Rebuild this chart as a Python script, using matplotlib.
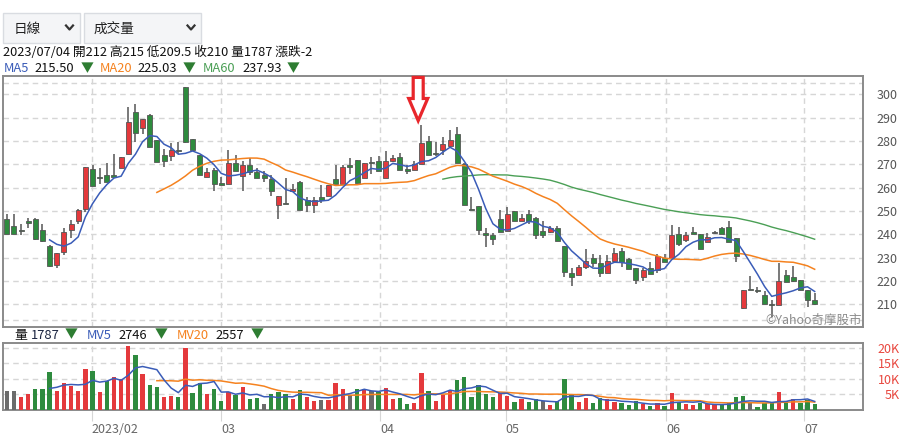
import numpy as np
import pandas as pd
import matplotlib
matplotlib.use('Agg')
import matplotlib.pyplot as plt
from matplotlib.patches import Rectangle, Polygon
from matplotlib.lines import Line2D

plt.rcParams['font.family'] = ['Noto Sans CJK TC', 'DejaVu Sans']

W, H = 907, 436

# 日K資料 (2023/01 ~ 2023/07/04)
opens = [246.5, 243.5, 242, 245.5, 246.5, 242, 235, 227, 232.5, 242,
         245.5, 251, 268, 264.5, 265.5, 265.5, 268.5, 274.5, 292.5, 285.5,
         291, 280.5, 274, 273.5, 276, 303, 281, 274, 264.5, 267.5,
         262, 261.5, 270.5, 265, 269.5, 266.5, 265.5, 263.5, 252.5, 253.5,
         258.5, 262.5, 254.5, 252.5, 256, 256.5, 263.5, 261.5, 269.5, 272,
         264, 271, 271.5, 264, 271.5, 273, 268, 267.5, 270, 280,
         275, 276, 278, 283, 270, 251, 252, 240.5, 239.5, 246.5,
         241.5, 250, 245.5, 248.5, 247, 241.5, 241, 242.5, 235, 223.5,
         222.5, 226, 230, 227.5, 223.5, 228.5, 233, 229.5, 225.5, 221.5,
         225.5, 224.5, 230, 230, 240, 237.5, 241, 240, 236.5, 240.5,
         242.5, 243, 238.5, 208.5, 216.5, 216, 214, 210, 209.5, 222.5,
         221.5, 220.5, 216, 212]
highs = [248.5, 248.5, 244.5, 247, 247, 244.5, 235.5, 232, 242.5, 246,
         251, 269, 269.5, 268.5, 270.5, 274.5, 273, 294.5, 296, 289.5,
         291.5, 280.5, 276.5, 279, 279.5, 303, 281, 274, 268.5, 268.5,
         264.5, 276, 274, 271.5, 272.5, 268.5, 267, 265.5, 256.5, 264,
         261.5, 263, 256, 256, 261, 261, 269.5, 269.5, 272.5, 272,
         270.5, 273, 273.5, 275.5, 274, 275, 269.5, 271.5, 287, 282,
         279.5, 281.5, 284.5, 286, 270.5, 256, 252, 242.5, 240.5, 250.5,
         251.5, 250, 248.5, 250.5, 247.5, 245.5, 243.5, 243.5, 235, 225.5,
         227, 233.5, 231.5, 231, 231, 234, 234, 230, 225.5, 225.5,
         228, 231.5, 231.5, 244, 243, 241, 243, 240, 240.5, 241.5,
         243, 245.5, 238.5, 216, 222, 217.5, 215.5, 212, 227.5, 224.5,
         226.5, 220.5, 216, 215]
lows = [240, 240, 239.5, 242.5, 237.5, 236.5, 226, 225.5, 231, 238.5,
        244.5, 249.5, 260.5, 261.5, 262.5, 264.5, 268.5, 274.5, 279.5, 283,
        277.5, 271, 269, 271.5, 274.5, 279, 275.5, 265.5, 264.5, 258.5,
        261, 261.5, 267, 258.5, 265.5, 264, 262.5, 256.5, 246.5, 253,
        258.5, 250.5, 249.5, 249, 253.5, 256.5, 261.5, 261.5, 266, 262,
        264, 266, 267, 264, 271, 267.5, 266, 267.5, 270, 274,
        273.5, 274, 277.5, 270.5, 252.5, 250.5, 239.5, 234.5, 235.5, 241,
        241.5, 245.5, 245.5, 244.5, 238, 238.5, 240.5, 237, 221.5, 218,
        222.5, 225, 226, 221.5, 223.5, 227.5, 226, 225, 218.5, 220,
        223, 223.5, 228, 230, 235, 236.5, 240, 233.5, 236.5, 240,
        240, 236.5, 228, 208, 216, 215, 210, 204.5, 209.5, 219.5,
        219.5, 216, 209, 209.5]
closes = [240, 240, 241.5, 245, 238, 237, 226.5, 232, 241, 244.5,
          250.5, 269, 260.5, 264, 262.5, 264.5, 273, 288, 283.5, 289.5,
          277.5, 271, 271.5, 276, 275.5, 279.5, 276, 265.5, 266.5, 261.5,
          261, 270.5, 267, 269.5, 266.5, 264, 264, 258.5, 256.5, 253,
          259.5, 250.5, 252.5, 254.5, 254.5, 261, 261.5, 269, 269, 262,
          270.5, 270.5, 267, 271.5, 272.5, 267.5, 267, 270, 279, 274,
          274.5, 278.5, 280.5, 270.5, 252.5, 250.5, 242, 239.5, 238, 241,
          248.5, 245.5, 247, 245.5, 239.5, 239.5, 242.5, 237, 224, 221.5,
          226, 228.5, 227.5, 223.5, 228.5, 232, 228, 225, 220.5, 224.5,
          223, 230.5, 228, 239.5, 236, 239.5, 240, 233.5, 239, 240.5,
          240, 236.5, 230.5, 216, 216, 215.5, 210, 209.5, 220, 219.5,
          220, 216, 212, 210]
volumes = [6000, 6000, 4100, 5050, 6650, 6650, 12100, 6000, 8600, 7600,
           6000, 13050, 12400, 5700, 9200, 10500, 9850, 20450, 17550, 11450,
           7950, 7300, 4100, 4400, 4100, 19800, 5400, 8700, 5150, 6650,
           2800, 5800, 4850, 7300, 3450, 3800, 1850, 5050, 5700, 5050,
           3450, 6350, 4100, 2800, 3150, 3150, 8600, 6650, 4750, 6650,
           6650, 6000, 5700, 7000, 3450, 3800, 1850, 2150, 11800, 6000,
           2800, 4750, 6550, 9550, 10500, 4100, 7950, 5050, 4100, 5400,
           4400, 2500, 3450, 2500, 3450, 2800, 1550, 2800, 9850, 5050,
           2500, 3800, 2150, 3800, 3450, 2500, 2150, 1550, 2800, 1850,
           1200, 2150, 1200, 5400, 2500, 1850, 1550, 2150, 1850, 1550,
           1550, 2150, 4100, 4400, 2500, 900, 2150, 2150, 5700, 2850,
           3550, 2250, 3300, 1787]

month_labels = ['2023/02', '03', '04', '05', '06', '07']
month_pos = [11.9, 30.0, 52.2, 69.8, 92.2, 111.5]
price_ticks = list(range(210, 301, 10))
vol_ticks = [5000, 10000, 15000, 20000]
vol_tick_labels = ['5K', '10K', '15K', '20K']

header_info = '2023/07/04 開212 高215 低209.5 收210 量1787 漲跌-2'
ma_values = ['215.50', '225.03', '237.93']
vol_values = ['1787', '2746', '2557']

RED = '#e4393c'
GREEN = '#2e8b3e'
GRAY = '#6b6b6b'
C_MA5 = '#3a5cb8'
C_MA20 = '#f5821f'
C_MA60 = '#4a9f55'
TRI = '#2e7d32'
GRID = '#d6d6d6'

n = len(closes)
idx = np.arange(n)

s_close = pd.Series(closes, dtype=float)
ma5 = s_close.rolling(5).mean()
ma20 = s_close.rolling(20).mean()
ma60 = s_close.rolling(60).mean()
ma5[:6] = np.nan
ma20[:21] = np.nan
ma60[:61] = np.nan

s_vol = pd.Series(volumes, dtype=float)
mv5 = s_vol.rolling(5).mean()
mv20 = s_vol.rolling(20).mean()
mv5[:6] = np.nan
mv20[:21] = np.nan

fig = plt.figure(figsize=(W / 100, H / 100), dpi=100)
fig.patch.set_facecolor('white')


def fx(x):
    return x / W


def fy(y):
    return 1 - y / H


ax = fig.add_axes([fx(3), fy(327), fx(863) - fx(3), fy(76) - fy(327)])
axv = fig.add_axes([fx(3), fy(410), fx(863) - fx(3), fy(343) - fy(410)])

xlim = (-0.52, 119.76)

# ---- 主圖 K線 ----
for i in range(n):
    o, h, l, c = opens[i], highs[i], lows[i], closes[i]
    if c > o:
        col = RED
    elif c < o:
        col = GREEN
    else:
        col = GRAY
    ax.vlines(i, l, h, color='#555555', lw=1.1, zorder=3)
    bh = max(abs(c - o), 0.35)
    ax.add_patch(Rectangle((i - 0.35, min(o, c)), 0.7, bh, facecolor=col,
                           edgecolor='#555555', lw=0.6, zorder=4))

ax.plot(idx, ma60, color=C_MA60, lw=1.0, zorder=5)
ax.plot(idx, ma20, color=C_MA20, lw=1.1, zorder=5)
ax.plot(idx, ma5, color=C_MA5, lw=1.1, zorder=6)

ax.set_xlim(*xlim)
ax.set_ylim(200.26, 307.84)
for p in price_ticks + [203.3, 304.7]:
    ax.axhline(p, color=GRID, lw=1, ls=(0, (4, 3)), zorder=1)
for m in month_pos:
    ax.axvline(m, color=GRID, lw=1, ls=(0, (4, 3)), zorder=1)

ax.yaxis.tick_right()
ax.set_yticks(price_ticks)
ax.set_yticklabels([str(p) for p in price_ticks])
ax.tick_params(axis='y', length=0, pad=10, labelsize=9, labelcolor='#555555')
ax.set_xticks([])
for sp in ax.spines.values():
    sp.set_color('#8a8a8a')
    sp.set_linewidth(1.4)

ax.text(0.9985, 0.028, '©Yahoo奇摩股市', transform=ax.transAxes, ha='right',
        va='center', fontsize=9, color='#8c8c8c', zorder=7)

# 紅色空心箭頭
ci = 58
cx = ci - 0.45
tip = highs[ci] + 1.7
hb = tip + 9.5
top = 307.84 - 0.6
arrow = Polygon([(cx - 0.7, top), (cx + 0.7, top), (cx + 0.7, hb), (cx + 1.33, hb),
                 (cx, tip), (cx - 1.33, hb), (cx - 0.7, hb)], closed=True,
                facecolor='white', edgecolor='#e8262b', lw=2.3, zorder=10,
                joinstyle='miter', clip_on=False)
ax.add_patch(arrow)

# ---- 成交量 ----
vcols = []
for i in range(n):
    if i == 0 or closes[i] == closes[i - 1]:
        vcols.append(GRAY)
    elif closes[i] > closes[i - 1]:
        vcols.append(RED)
    else:
        vcols.append(GREEN)
axv.bar(idx, volumes, width=0.6, color=vcols, zorder=3)
axv.plot(idx, mv20, color=C_MA20, lw=1.1, zorder=4)
axv.plot(idx, mv5, color=C_MA5, lw=1.1, zorder=5)
axv.set_xlim(*xlim)
axv.set_ylim(0, 21500)
for v in vol_ticks:
    axv.axhline(v, color=GRID, lw=1, ls=(0, (4, 3)), zorder=1)
for m in month_pos:
    axv.axvline(m, color=GRID, lw=1, ls=(0, (4, 3)), zorder=1)
axv.yaxis.tick_right()
axv.set_yticks(vol_ticks)
axv.set_yticklabels(vol_tick_labels)
axv.tick_params(axis='y', length=0, pad=26.5, labelsize=9, labelcolor='#e8473e')
for lab in axv.get_yticklabels():
    lab.set_horizontalalignment('right')
axv.set_xticks(month_pos)
axv.set_xticklabels(month_labels)
axv.tick_params(axis='x', length=8, color=GRID, pad=1, labelsize=9, labelcolor='#666666')
for lab in axv.get_xticklabels():
    lab.set_horizontalalignment('left')
for sp in axv.spines.values():
    sp.set_color('#8a8a8a')
    sp.set_linewidth(1.4)

# ---- 上方選單與資訊 ----
for x0, x1, label, chev in [(3.3, 80, '日線', 69.5), (84, 200.7, '成交量', 191)]:
    fig.add_artist(Rectangle((fx(x0), fy(43.3)), fx(x1) - fx(x0), fy(13.3) - fy(43.3),
                             transform=fig.transFigure, facecolor='#f4f5f7',
                             edgecolor='#d9dce1', lw=1))
    fig.text(fx(x0 + 10), fy(29), label, fontsize=9.8, color='#222222',
             ha='left', va='center')
    fig.add_artist(Line2D([fx(chev - 3.5), fx(chev), fx(chev + 3.5)],
                          [fy(25.5), fy(29.5), fy(25.5)], transform=fig.transFigure,
                          color='#333333', lw=1.6))

fig.text(fx(3), fy(52.8), header_info, fontsize=9.2, color='#111111',
         ha='left', va='center')

line2 = [('MA5', 3.3, C_MA5), (ma_values[0], 34, '#111111'), ('▼', 81, TRI),
         ('MA20', 100, C_MA20), (ma_values[1], 137, '#111111'), ('▼', 183, TRI),
         ('MA60', 203, C_MA60), (ma_values[2], 242, '#111111'), ('▼', 287, TRI)]
for s, x, c in line2:
    fig.text(fx(x), fy(68.5), s, fontsize=9.3, color=c, ha='left', va='center')

line3 = [('量', 14, '#111111'), (vol_values[0], 31, '#1a2440'), ('▼', 65, TRI),
         ('MV5', 87, C_MA5), (vol_values[1], 118, '#111111'), ('▼', 155, TRI),
         ('MV20', 177, C_MA20), (vol_values[2], 215, '#111111'), ('▼', 251, TRI)]
for s, x, c in line3:
    fig.text(fx(x), fy(335), s, fontsize=9.3, color=c, ha='left', va='center')

fig.savefig('out.png', dpi=100, facecolor='white')
